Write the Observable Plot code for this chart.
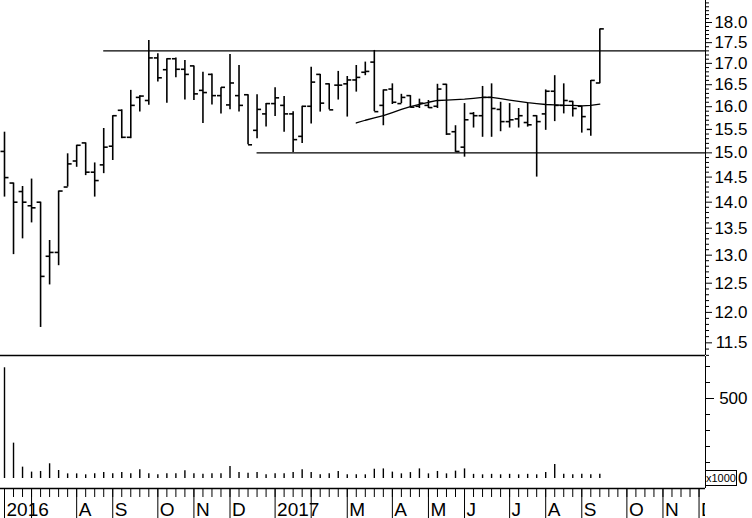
<!DOCTYPE html>
<html><head><meta charset="utf-8">
<script src="https://cdn.jsdelivr.net/npm/d3@7"></script>
<script src="https://cdn.jsdelivr.net/npm/@observablehq/plot@0.6"></script>
<style>
html,body{margin:0;padding:0;background:#fff;}
#chart{position:relative;width:752px;height:518px;font-family:"Liberation Sans",Arial,sans-serif;background:#fff;}
#chart svg{display:block;}
.unit{position:absolute;left:705px;top:470px;width:30px;height:14px;border:1px solid #000;background:#fff;font:11px "Liberation Sans",Arial,sans-serif;line-height:14px;text-align:center;color:#000;}
</style></head><body><div id="chart"></div>
<script>
// weekly bars, first week ending 2016-06-10
const firstWeek = "2016-06-10";
const open = [15.03,14.38,14.21,13.93,14.00,12.98,13.05,14.30,14.83,15.21,
  14.60,14.75,15.14,15.92,15.33,16.21,16.14,17.13,16.85,17.11,
  16.86,16.94,16.37,16.74,16.25,16.04,16.25,16.27,15.48,15.84,
  16.07,16.03,15.84,15.35,16.01,16.74,16.52,16.49,16.52,16.61,
  16.79,17.03,16.03,16.40,16.07,16.25,16.01,16.03,16.01,16.51,
  15.45,15.12,15.85,15.80,16.21,15.94,15.67,15.73,15.65,15.80,
  15.84,16.35,16.03,16.12,16.01,15.50,16.54];
const high = [15.44,14.38,14.31,14.46,14.00,13.27,14.22,14.98,15.16,15.21,
  14.79,15.52,15.80,15.93,16.37,16.25,17.55,17.23,17.11,17.13,
  17.07,16.94,16.79,16.75,16.43,17.21,16.95,16.27,16.27,16.07,
  16.43,16.23,15.89,16.01,16.91,16.74,16.52,16.81,16.69,16.95,
  17.03,17.31,16.38,16.52,16.28,16.25,16.17,16.14,16.51,16.51,
  15.58,16.07,15.87,16.46,16.52,16.10,16.07,15.96,16.08,15.80,
  16.38,16.71,16.52,16.12,16.01,16.60,17.84];
const low = [14.10,13.01,13.30,13.60,11.75,12.47,12.81,14.30,14.70,14.53,
  14.10,14.57,14.84,15.30,15.30,15.88,16.03,16.56,16.08,16.66,
  16.15,16.14,15.63,16.04,15.84,15.93,15.88,15.17,15.30,15.55,
  15.78,15.44,15.01,15.20,15.62,15.88,15.93,16.15,15.77,16.33,
  16.71,15.89,15.58,16.05,16.07,15.97,15.96,15.96,15.96,15.37,
  15.01,14.91,15.53,15.33,15.33,15.45,15.53,15.53,15.55,14.50,
  15.48,15.67,15.84,15.77,15.42,15.35,16.52];
const close = [14.49,14.00,14.00,13.89,12.62,13.05,14.22,14.77,15.16,14.60,
  14.43,15.12,15.80,15.33,16.03,16.24,17.13,16.66,17.11,16.86,
  16.74,16.29,16.32,16.25,16.44,16.54,16.03,15.17,15.94,16.07,
  16.20,15.84,15.28,16.01,16.56,16.08,15.93,16.49,16.61,16.67,
  16.81,15.89,16.38,16.10,16.21,15.99,16.08,15.98,16.40,15.40,
  15.03,15.71,15.80,16.21,15.96,15.67,15.71,15.80,15.60,15.67,
  16.35,16.03,16.14,15.96,15.78,16.60,17.84];
// volume in thousands
const volume = [692,221,71,40,44,92,50,29,29,23,
  29,37,29,37,29,54,29,23,29,29,
  48,29,26,29,29,75,37,33,37,23,
  29,29,37,54,37,23,29,44,23,23,
  23,58,60,40,29,37,60,29,44,29,
  46,60,26,23,26,23,26,23,26,23,
  37,87,26,23,26,23,26];
// moving average, from week 39 on
const maStart = 39;
const maValues = [15.64,15.70,15.75,15.80,15.87,15.94,16.00,16.05,16.10,16.14,
  16.15,16.16,16.17,16.19,16.21,16.21,16.18,16.15,16.12,16.09,
  16.07,16.05,16.04,16.03,16.03,16.02,16.03,16.06];
// horizontal resistance / support lines
const levelPrices = [17.3, 15.0];
const levelStarts = ["2016-08-26", "2016-12-23"];
// axis tick labels
const priceTicks = ["11.5","12.0","12.5","13.0","13.5","14.0","14.5","15.0","15.5","16.0","16.5","17.0","17.5","18.0"];
const volumeTicks = ["0","500"];
const monthLabels = ["2016","A","S","O","N","D","2017","M","A","M","J","J","A","S","O","N","D"];
const monthLabelDates = ["2016-06-10","2016-08-05","2016-09-02","2016-10-07","2016-11-04","2016-12-02",
  "2017-01-06","2017-03-03","2017-04-07","2017-05-05","2017-06-02","2017-07-07","2017-08-04",
  "2017-09-01","2017-10-06","2017-11-03","2017-12-01"];
const weeksShown = 78;

// ---------------------------------------------------------------
const DAY = 864e5;
const t0 = new Date(firstWeek + "T00:00:00Z").getTime();
const wk = i => new Date(t0 + i * 7 * DAY);
const xDomain = [wk(-0.4435), wk(77.716)];
const bars = close.map((c, i) => ({date: wk(i), o: open[i], h: high[i], l: low[i], c, v: volume[i]}));
const ma = maValues.map((v, j) => ({date: wk(maStart + j), v}));
const levels = levelPrices.map((p, i) => ({p, start: new Date(levelStarts[i] + "T00:00:00Z")}));
const weeks = d3.range(weeksShown).map(wk);
const monthStarts = weeks.filter((d, i) => i === 0 || d.getUTCMonth() !== weeks[i - 1].getUTCMonth());
const labels = monthLabels.map((t, i) => ({t, date: new Date(monthLabelDates[i] + "T00:00:00Z")}));

const leftTick = {draw(ctx, size) { const r = Math.sqrt(size / Math.PI); ctx.moveTo(-r, 0); ctx.lineTo(0, 0); }};
const rightTick = {draw(ctx, size) { const r = Math.sqrt(size / Math.PI); ctx.moveTo(0, 0); ctx.lineTo(r, 0); }};

const FONT = "'Liberation Sans', Arial, Helvetica, sans-serif";
const common = {width: 752, marginLeft: 0, marginRight: 47, marginTop: 0,
  style: {fontFamily: FONT, color: "black", background: "white", overflow: "visible"}};

const yMin = 11.298, yMax = 18.5625;
const priceMajor = priceTicks.map(Number);
const priceMinor = d3.range(113, 186).map(d => d / 10).filter(d => !priceMajor.some(m => Math.abs(m - d) < 1e-6));

const pricePlot = Plot.plot({
  ...common, height: 356, marginBottom: 1,
  x: {type: "utc", domain: xDomain, axis: null, label: null},
  y: {type: "log", domain: [yMin, yMax], axis: null, label: null},
  marks: [
    Plot.ruleY(levels, {y: "p", x1: "start", x2: () => xDomain[1], stroke: "black", strokeWidth: 1.3}),
    Plot.line(ma, {x: "date", y: "v", stroke: "black", strokeWidth: 1.3}),
    Plot.ruleX(bars, {x: "date", y1: "l", y2: "h", stroke: "black", strokeWidth: 1.6}),
    Plot.dot(bars, {x: "date", y: "o", symbol: leftTick, r: 4, fill: "none", stroke: "black", strokeWidth: 1.6}),
    Plot.dot(bars, {x: "date", y: "c", symbol: rightTick, r: 4, fill: "none", stroke: "black", strokeWidth: 1.6}),
    Plot.ruleY([yMin], {stroke: "black", strokeWidth: 1.3}),
    Plot.ruleX([xDomain[1]], {stroke: "black"}),
    Plot.axisY({anchor: "right", label: null, ticks: priceMinor, tickSize: 3, tickFormat: () => ""}),
    Plot.axisY({anchor: "right", label: null, ticks: priceMajor, tickSize: 6, tickPadding: 36, textAnchor: "end",
      tickFormat: d => priceTicks[priceMajor.indexOf(d)], fontSize: 17})
  ]
});

const volMajor = volumeTicks.map(Number);
const volumePlot = Plot.plot({
  ...common, height: 132, marginBottom: 0,
  x: {type: "utc", domain: xDomain, axis: null, label: null},
  y: {domain: [-62.5, 762.5], axis: null, label: null},
  marks: [
    Plot.ruleX(bars, {x: "date", y1: 0, y2: "v", stroke: "black", strokeWidth: 1.4}),
    Plot.ruleX([xDomain[1]], {stroke: "black"}),
    Plot.axisY({anchor: "right", label: null, ticks: d3.range(100, 701, 100).filter(d => d !== 500), tickSize: 4, tickFormat: () => ""}),
    Plot.axisY({anchor: "right", label: null, ticks: volMajor, tickSize: 8, tickPadding: 34, textAnchor: "end",
      tickFormat: d => volumeTicks[volMajor.indexOf(d)], fontSize: 17})
  ]
});

const xAxisPlot = Plot.plot({
  ...common, height: 30, marginBottom: 0,
  x: {type: "utc", domain: xDomain, axis: null, label: null},
  y: {domain: [0, 30], range: [0, 30], axis: null, label: null},
  marks: [
    Plot.ruleY([0], {stroke: "black", strokeWidth: 1.3}),
    Plot.ruleX(weeks, {x: d => d, insetBottom: 21, stroke: "black"}),
    Plot.ruleX(monthStarts, {x: d => d, stroke: "black"}),
    Plot.text(labels, {x: "date", text: "t", frameAnchor: "bottom", lineAnchor: "bottom", textAnchor: "start",
      dx: 2, dy: -3, fontSize: 19, fill: "black", clip: true})
  ]
});

const root = document.getElementById("chart");
root.append(pricePlot, volumePlot, xAxisPlot);
const unit = document.createElement("div");
unit.className = "unit";
unit.textContent = "x1000";
root.append(unit);
</script>
</body></html>
